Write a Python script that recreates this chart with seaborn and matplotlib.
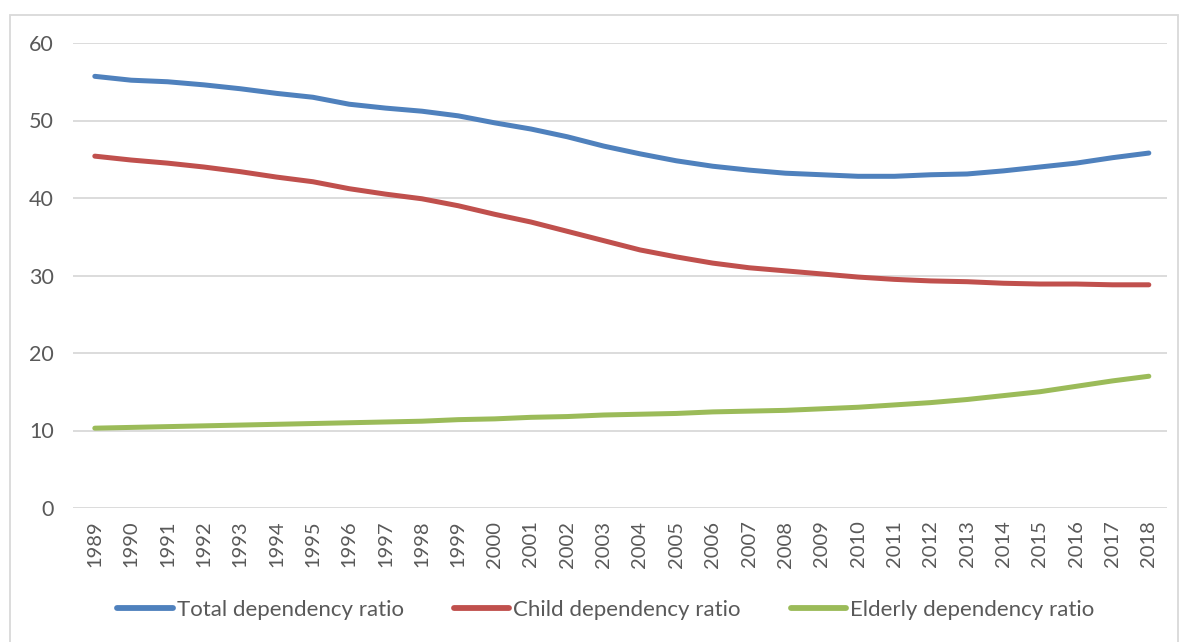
import matplotlib
matplotlib.use("Agg")
import matplotlib.pyplot as plt
import seaborn as sns
import pandas as pd
from matplotlib.patches import Rectangle

years = list(range(1989, 2019))
total = [55.7, 55.2, 55.0, 54.6, 54.1, 53.5, 53.0, 52.1, 51.6, 51.2,
         50.6, 49.7, 48.9, 47.9, 46.7, 45.7, 44.8, 44.1, 43.6, 43.2,
         43.0, 42.8, 42.8, 43.0, 43.1, 43.5, 44.0, 44.5, 45.2, 45.8]
child = [45.4, 44.9, 44.5, 44.0, 43.4, 42.7, 42.1, 41.2, 40.5, 39.9,
         39.0, 37.9, 36.9, 35.7, 34.5, 33.3, 32.4, 31.6, 31.0, 30.6,
         30.2, 29.8, 29.5, 29.3, 29.2, 29.0, 28.9, 28.9, 28.8, 28.8]
elderly = [10.3, 10.4, 10.5, 10.6, 10.7, 10.8, 10.9, 11.0, 11.1, 11.2,
           11.4, 11.5, 11.7, 11.8, 12.0, 12.1, 12.2, 12.4, 12.5, 12.6,
           12.8, 13.0, 13.3, 13.6, 14.0, 14.5, 15.0, 15.7, 16.4, 17.0]
series_names = ["Total dependency ratio", "Child dependency ratio", "Elderly dependency ratio"]
colors = ["#4F81BD", "#C0504D", "#9BBB59"]
yticks = [0, 10, 20, 30, 40, 50, 60]

df = pd.DataFrame({"year": years * 3,
                   "value": total + child + elderly,
                   "series": [series_names[0]] * len(years) + [series_names[1]] * len(years) + [series_names[2]] * len(years)})

sns.set_theme(style="white")
plt.rcParams['font.family'] = ['Lato', 'DejaVu Sans']

fig = plt.figure(figsize=(11.81, 6.42), dpi=100)
ax = fig.add_axes([73 / 1181, 1 - 508 / 642, (1167 - 73) / 1181, (508 - 43) / 642])

sns.lineplot(data=df, x="year", y="value", hue="series", hue_order=series_names,
             palette=colors, linewidth=3.6, ax=ax, legend=True,
             solid_capstyle="round")

ax.set_xlim(1988.4, 2018.5)
ax.set_ylim(0, 60)
ax.set_yticks(yticks)
ax.set_xticks(years)
ax.set_xticklabels([str(y) for y in years], rotation=90)
ax.grid(axis="y", color="#D9D9D9", linewidth=1.3)
ax.set_axisbelow(True)
for s in ax.spines.values():
    s.set_visible(False)
ax.tick_params(axis="both", length=0, labelcolor="#595959")
ax.tick_params(axis="y", pad=14, labelsize=15.5)
ax.tick_params(axis="x", pad=9, labelsize=14.5)
ax.set_xlabel("")
ax.set_ylabel("")

handles, labels = ax.get_legend_handles_labels()
leg = ax.legend(handles, labels, loc="center", bbox_to_anchor=(606 / 1181, 1 - 610 / 642),
                bbox_transform=fig.transFigure, ncol=3, frameon=False, fontsize=16,
                handlelength=2.5, handletextpad=0.18, columnspacing=2.25)
for t in leg.get_texts():
    t.set_color("#595959")
for l in leg.get_lines():
    l.set_linewidth(4.2)
    l.set_solid_capstyle("round")

fig.patches.append(Rectangle((10 / 1181, -0.01), (1178 - 10) / 1181, (642 - 15) / 642 + 0.01,
                             transform=fig.transFigure, fill=False, edgecolor="#D9D9D9",
                             linewidth=1.3))

fig.savefig("out.png", dpi=100)
